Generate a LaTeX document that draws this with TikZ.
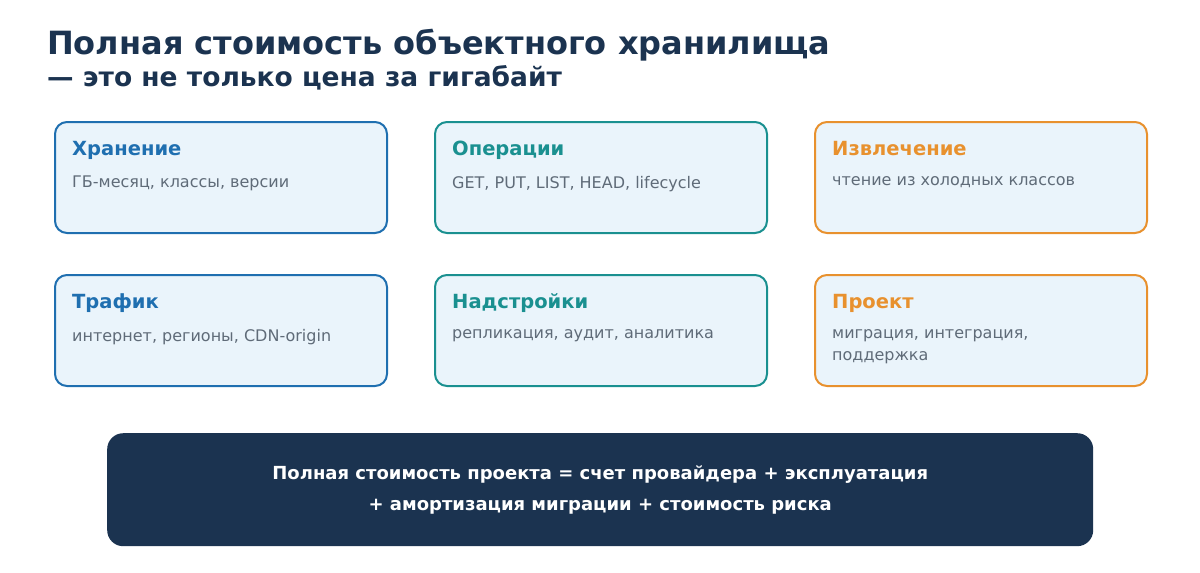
\documentclass[tikz,border=0pt]{standalone}
\usepackage{fontspec}
\setmainfont{DejaVu Sans}
\begin{document}
\definecolor{navy}{HTML}{1B3350}
\definecolor{tblue}{HTML}{1F6FB0}
\definecolor{tteal}{HTML}{1A9090}
\definecolor{torange}{HTML}{E8912E}
\definecolor{boxfill}{HTML}{EAF4FB}
\definecolor{gtext}{HTML}{5F6B78}
\begin{tikzpicture}[x=1pt,y=-1pt,inner sep=0pt,
 card/.style={draw=#1,line width=2pt,fill=boxfill,rounded corners=12pt,minimum width=332pt,minimum height=111pt},
 head/.style={anchor=base west,font=\fontsize{19.5}{22}\selectfont\bfseries,text=#1},
 body/.style={anchor=north west,font=\fontsize{16}{22}\selectfont,text=gtext,align=left}]
\useasboundingbox (0,0) rectangle (1200,573);
\node[anchor=base west,text=navy,font=\fontsize{32}{36}\selectfont\bfseries] (t1) at (47,54) {Полная стоимость объектного хранилища};
\node[anchor=base west,text=navy,font=\fontsize{26.5}{28}\selectfont\bfseries] (t2) at (47,86) {— это не только цена за гигабайт};
\foreach \n/\x/\y/\c/\h/\b in {a/54/121/tblue/Хранение/{ГБ-месяц, классы, версии},
 b/434/121/tteal/Операции/{GET, PUT, LIST, HEAD, lifecycle},
 c/814/121/torange/Извлечение/{чтение из холодных классов},
 d/54/274/tblue/Трафик/{интернет, регионы, CDN-origin},
 e/434/274/tteal/Надстройки/{репликация, аудит, аналитика},
 f/814/274/torange/Проект/{миграция, интеграция,\\поддержка}}{
 \node[card=\c,anchor=north west] (\n) at (\x,\y) {};
 \node[head=\c] (\n h) at (\x+18,\y+34) {\h};
 \node[body] (\n b) at (\x+18,\y+55) {\b};
}
\node[fill=navy,rounded corners=16pt,minimum width=986pt,minimum height=113pt,anchor=north west] (tot) at (107,433) {};
\node[text=white,align=center,font=\fontsize{18}{31}\selectfont\bfseries] (tott) at (tot.center) {Полная стоимость проекта = счет провайдера + эксплуатация\\+ амортизация миграции + стоимость риска};
\end{tikzpicture}
\end{document}
